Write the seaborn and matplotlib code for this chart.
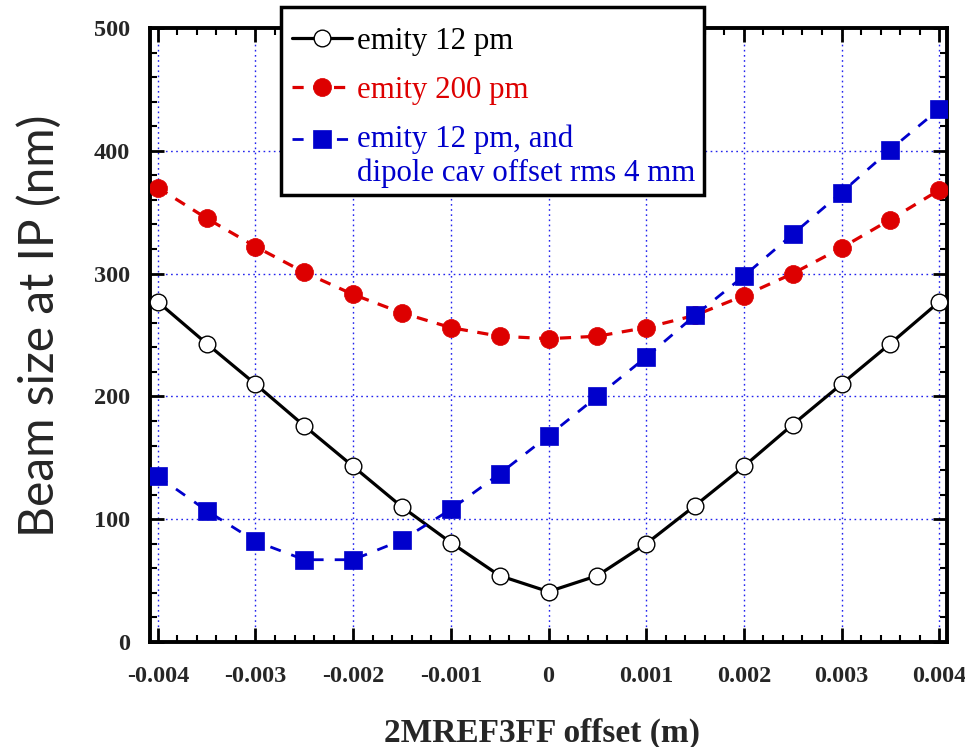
import matplotlib
matplotlib.use("Agg")
import matplotlib.pyplot as plt
from matplotlib.patches import Rectangle
import seaborn as sns
import numpy as np
from matplotlib.ticker import MultipleLocator

sns.set_theme(style="white")
plt.rcParams['font.family'] = ['Liberation Serif', 'DejaVu Serif']

offset = [-0.004, -0.0035, -0.003, -0.0025, -0.002, -0.0015, -0.001, -0.0005, 0.0,
          0.0005, 0.001, 0.0015, 0.002, 0.0025, 0.003, 0.0035, 0.004]
emit12 = [277, 243, 210, 176, 143, 110, 81, 54, 41, 54, 80, 111, 143, 177, 210, 243, 277]
emit200 = [370, 345, 322, 301, 283, 268, 256, 249, 247, 249, 256, 266, 282, 300, 321, 344, 368]
emit12_dip = [135, 107, 82, 67, 67, 83, 108, 137, 168, 200, 232, 266, 298, 332, 366, 401, 434]

labels = ["emity 12 pm", "emity 200 pm", "emity 12 pm, and\ndipole cav offset rms 4 mm"]
xticks = [-0.004, -0.003, -0.002, -0.001, 0, 0.001, 0.002, 0.003, 0.004]
xticklabels = ["-0.004", "-0.003", "-0.002", "-0.001", "0", "0.001", "0.002", "0.003", "0.004"]
yticks = [0, 100, 200, 300, 400, 500]

W, H = 965, 747
fig = plt.figure(figsize=(W / 100, H / 100), dpi=100)
ax = fig.add_axes([150 / W, 1 - 642 / H, (947 - 150) / W, (642 - 28) / H])

blue = '#0000cc'
red = '#dd0000'

sns.lineplot(x=offset, y=emit12, ax=ax, color='black', linewidth=2.3, linestyle='-',
             marker='o', markersize=12, markerfacecolor='white', markeredgecolor='black',
             markeredgewidth=1.0, label=labels[0], zorder=3)
sns.lineplot(x=offset, y=emit200, ax=ax, color=red, linewidth=2.3, linestyle=(0, (3.5, 3)),
             marker='o', markersize=13, markerfacecolor=red, markeredgecolor=red,
             markeredgewidth=0.5, label=labels[1], zorder=3)
sns.lineplot(x=offset, y=emit12_dip, ax=ax, color=blue, linewidth=2.0, linestyle=(0, (4, 4)),
             marker='s', markersize=12.5, markerfacecolor=blue, markeredgecolor=blue,
             markeredgewidth=0.5, label=labels[2], zorder=3)

ax.set_xlim(-0.00408, 0.00408)
ax.set_ylim(0, 500)
ax.set_xticks(xticks)
ax.set_xticklabels(xticklabels)
ax.set_yticks(yticks)
ax.xaxis.set_minor_locator(MultipleLocator(0.0002))
ax.yaxis.set_minor_locator(MultipleLocator(20))

ax.grid(True, which='major', color='#2222ee', linestyle=(0, (1.2, 2.5)), linewidth=1.0)
ax.set_axisbelow(True)

for s in ax.spines.values():
    s.set_visible(True)
    s.set_linewidth(2.8)
    s.set_color('black')

ax.tick_params(which='both', direction='in', top=True, right=True, bottom=True, left=True, color='black')
ax.tick_params(which='major', length=10, width=2)
ax.tick_params(which='minor', length=5, width=1.5)
ax.tick_params(axis='x', which='major', pad=17)
ax.tick_params(axis='y', which='major', pad=14.5)
for lab in ax.get_xticklabels() + ax.get_yticklabels():
    lab.set_fontsize(17.5)
    lab.set_fontweight('bold')
    lab.set_family(['Liberation Serif', 'DejaVu Serif'])

ax.set_xlabel("2MREF3FF offset (m)", fontsize=24, fontweight='bold',
              family=['Liberation Serif', 'DejaVu Serif'])
ax.xaxis.label.set_va('center')
ax.xaxis.set_label_coords((542 - 150) / 797, (642 - 733) / 614)
ax.set_ylabel("Beam size at IP (nm)", fontsize=34.5, family=['Lato', 'DejaVu Sans'])
ax.yaxis.label.set_va('center')
ax.yaxis.set_label_coords((40 - 150) / 797, (642 - 326) / 614)

# legend frame drawn as a box in figure pixels
frame = Rectangle((281 / W, 1 - 195 / H), (704 - 281) / W, (195 - 7) / H,
                  transform=fig.transFigure, facecolor='white', edgecolor='black',
                  linewidth=2.5, clip_on=False, zorder=4)
ax.add_artist(frame)

leg = ax.legend(loc='upper left', bbox_to_anchor=(292 / W, 1 - 27 / H), bbox_transform=fig.transFigure,
                fontsize=22.2, frameon=False,
                handlelength=1.95, handletextpad=0.15, labelspacing=0.64, borderpad=0,
                borderaxespad=0, labelcolor='linecolor')
leg.set_zorder(5)

# align the handle of the two-line entry with its first line
hl = leg.get_lines()[2]
hl.set_ydata(np.asarray(hl.get_ydata()) + 12.5)

plt.savefig("out.png", dpi=100)
